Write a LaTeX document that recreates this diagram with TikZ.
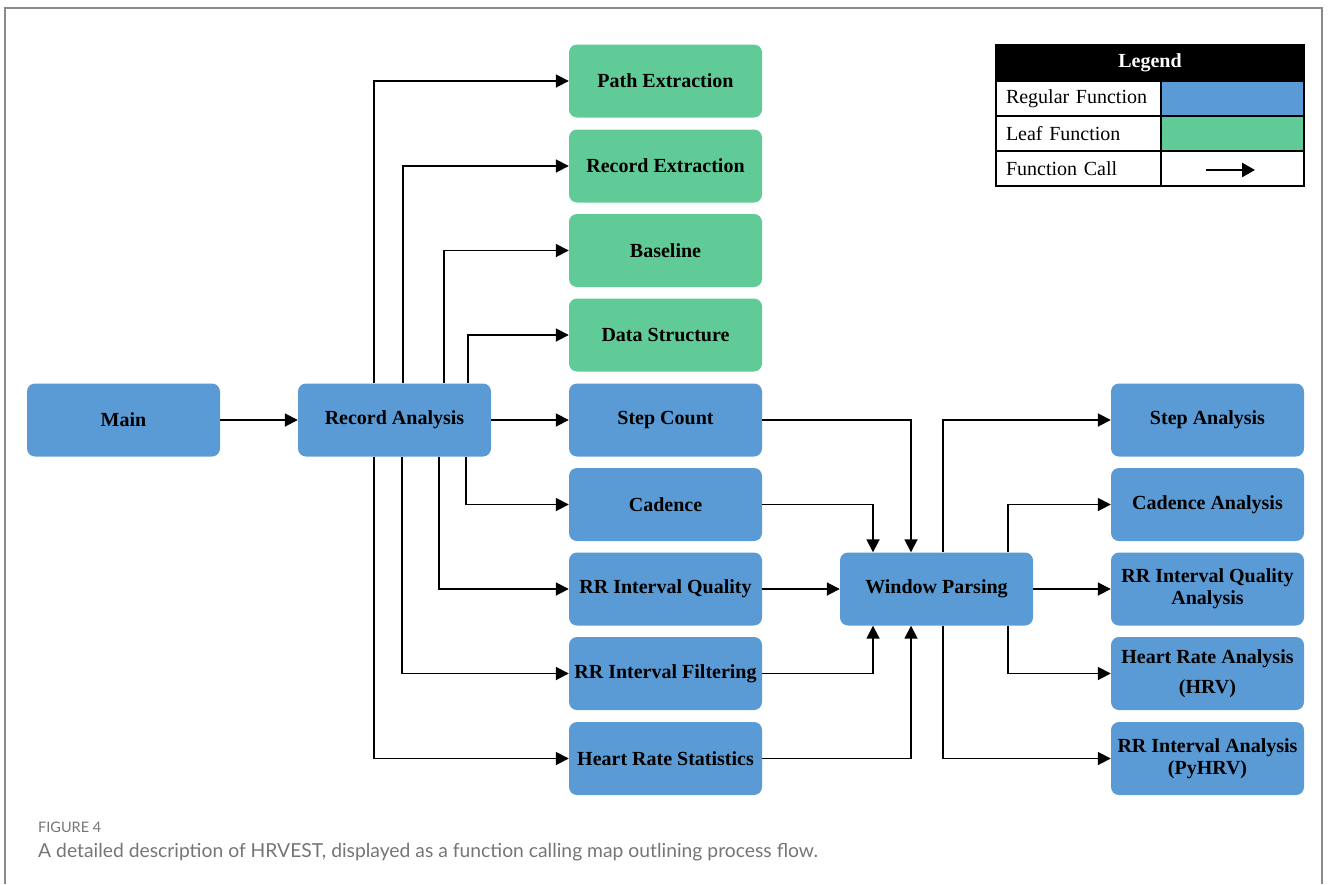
\documentclass[tikz,border=0pt]{standalone}
\usepackage{fontspec}
\setmainfont{Liberation Serif}
\newfontfamily\capfont{Lato}
\usetikzlibrary{arrows.meta}
\definecolor{regblue}{HTML}{5B9BD5}
\definecolor{leafgreen}{HTML}{61CB98}
\definecolor{framegray}{HTML}{8A8A8A}
\definecolor{capgray}{HTML}{757575}
\begin{document}
\begin{tikzpicture}[x=1pt,y=-1pt,
  fn/.style={rounded corners=8pt, minimum width=193pt, minimum height=73pt, inner sep=0pt,
    align=center, font=\fontsize{20}{22}\selectfont\bfseries, fill=regblue},
  leaf/.style={fn, fill=leafgreen},
  call/.style={line width=1.8pt, -{Triangle[length=13pt,width=13pt]}},
  lcell/.style={draw=black, line width=1.2pt, minimum height=35pt, text width=145pt, inner xsep=10pt,
    inner ysep=0pt, align=left, font=\fontsize{20}{22}\selectfont},
  rcell/.style={draw=black, line width=1.2pt, minimum height=35pt, minimum width=143pt, inner sep=0pt},
  capstyle/.style={anchor=base west, inner sep=0pt, text=capgray}]
\useasboundingbox (0,0) rectangle (1328,884);
\draw[framegray, line width=1.5pt] (5,884) -- (5,8) -- (1322,8) -- (1322,884);

% left part
\node[fn] (main) at (123.5,420) {Main};
\node[fn] (ra) at (394.5,420) {Record Analysis};

% middle column
\node[leaf] (pe) at (665.5,81) {Path Extraction};
\node[leaf] (re) at (665.5,166) {Record Extraction};
\node[leaf] (bl) at (665.5,250.5) {Baseline};
\node[leaf] (ds) at (665.5,335) {Data Structure};
\node[fn] (sc) at (665.5,420) {Step Count};
\node[fn] (cad) at (665.5,504.5) {Cadence};
\node[fn] (rrq) at (665.5,589) {RR Interval Quality};
\node[fn] (rrf) at (665.5,673.5) {RR Interval Filtering};
\node[fn] (hrs) at (665.5,758.5) {Heart Rate Statistics};

% window parsing
\node[fn] (wp) at (936.5,589) {Window Parsing};

% right column
\node[fn] (sa) at (1207.5,420) {Step Analysis};
\node[fn] (ca) at (1207.5,504.5) {Cadence Analysis};
\node[fn] (rqa) at (1207.5,589) {RR Interval Quality\\Analysis};
\node[fn] (hra) at (1207.5,673.5) {Heart Rate Analysis\\[8pt](HRV)};
\node[fn] (ria) at (1207.5,758.5) {RR Interval Analysis\\(PyHRV)};

% column coordinates
\coordinate (t1) at (374,0);
\coordinate (t2) at (403,0);
\coordinate (t3) at (444,0);
\coordinate (t4) at (468,0);
\coordinate (b1) at (466,0);
\coordinate (b2) at (439,0);
\coordinate (b3) at (402,0);
\coordinate (b4) at (374,0);
\coordinate (k1) at (873,0);
\coordinate (k2) at (911,0);
\coordinate (o1) at (943,0);
\coordinate (o2) at (1008,0);

% connectors
\draw[call] (main.east) -- (ra.west);
\draw[call] (ra.north -| t1) |- (pe.west);
\draw[call] (ra.north -| t2) |- (re.west);
\draw[call] (ra.north -| t3) |- (bl.west);
\draw[call] (ra.north -| t4) |- (ds.west);
\draw[call] (ra.east) -- (sc.west);
\draw[call] (ra.south -| b1) |- (cad.west);
\draw[call] (ra.south -| b2) |- (rrq.west);
\draw[call] (ra.south -| b3) |- (rrf.west);
\draw[call] (ra.south -| b4) |- (hrs.west);

\draw[call] (sc.east) -| (wp.north -| k2);
\draw[call] (cad.east) -| (wp.north -| k1);
\draw[call] (rrq.east) -- (wp.west);
\draw[call] (rrf.east) -| (wp.south -| k1);
\draw[call] (hrs.east) -| (wp.south -| k2);

\draw[call] (wp.north -| o1) |- (sa.west);
\draw[call] (wp.north -| o2) |- (ca.west);
\draw[call] (wp.east) -- (rqa.west);
\draw[call] (wp.south -| o2) |- (hra.west);
\draw[call] (wp.south -| o1) |- (ria.west);

% legend
\node[fill=black, draw=black, line width=1.2pt, minimum width=308pt, minimum height=36pt, inner sep=0pt,
  text=white, font=\fontsize{20}{22}\selectfont\bfseries] (lh) at (1150,63) {Legend};
\node[lcell] (l1) at (1078.5,98.5) {Regular Function};
\node[rcell, fill=regblue] (r1) at (1232.5,98.5) {};
\node[lcell] (l2) at (1078.5,133.5) {Leaf Function};
\node[rcell, fill=leafgreen] (r2) at (1232.5,133.5) {};
\node[lcell] (l3) at (1078.5,168.5) {Function Call};
\node[rcell] (r3) at (1232.5,168.5) {};
\coordinate (la1) at (1206,170);
\coordinate (la2) at (1255,170);
\draw[line width=2.6pt, -{Triangle[length=13pt,width=14pt]}] (la1) -- (la2);

% caption
\node[capstyle, font=\capfont\fontsize{14.5}{16}\selectfont] (fig) at (38,832) {FIGURE 4};
\node[capstyle, font=\capfont\fontsize{19.3}{22}\selectfont] (cap) at (38,857) {A detailed description of HRVEST, displayed as a function calling map outlining process flow.};
\end{tikzpicture}
\end{document}
